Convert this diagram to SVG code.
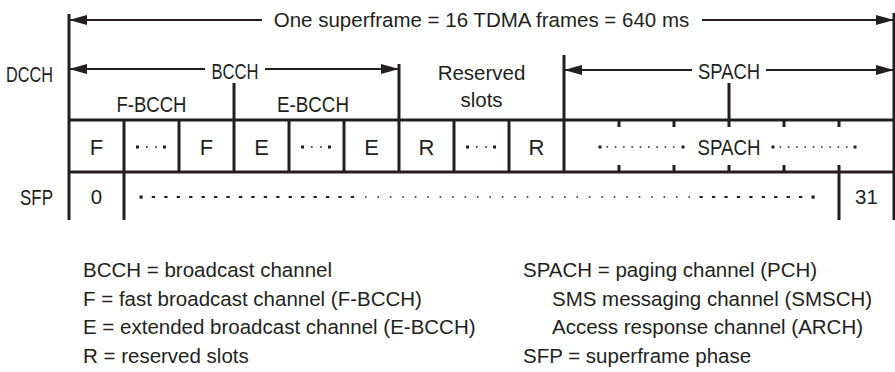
<svg xmlns="http://www.w3.org/2000/svg" width="895" height="372" viewBox="0 0 895 372">
<style>
  text { font-family: "Liberation Sans", Arial, sans-serif; font-size: 20.5px; fill: #231f20; }
  .c { text-anchor: middle; }
  .cap { font-size: 22px; }
  .grid { stroke: #231f20; stroke-width: 3; fill: none; }
  .arr { stroke: #231f20; stroke-width: 2; fill: none; marker-end: url(#ah); }
  .big { fill: #231f20; }
  .dash { stroke: #231f20; stroke-width: 2; }
</style>
<defs>
  <marker id="ah" markerUnits="userSpaceOnUse" markerWidth="18" markerHeight="10" viewBox="0 0 18 10" refX="18" refY="5" orient="auto">
    <path d="M0,0 L18,5 L0,10 z" fill="#231f20"/>
  </marker>
</defs>
<rect width="895" height="372" fill="#ffffff"/>

<g id="grid">
  <path class="grid" d="M69,14 V220 M894,13 V220 M69,120 H894 M69,172 H894"/>
  <path class="grid" d="M124,120 V220 M179,120 V172 M234,83 V172 M289,120 V172 M344,120 V172 M399,64 V172 M454,120 V172 M509,120 V172 M564,55 V172 M839,172 V220"/>
  <path class="grid" d="M619,120 V127 M674,120 V127 M729,83 V127 M784,120 V127 M839,120 V127 M619,165 V172 M674,165 V172 M729,165 V172 M784,165 V172 M839,165 V172"/>
</g>

<g id="connectors">
  <line class="arr" x1="262" y1="20" x2="69" y2="20"/>
  <line class="arr" x1="702" y1="20" x2="894" y2="20"/>
  <line class="arr" x1="205" y1="69" x2="69" y2="69"/>
  <line class="arr" x1="265" y1="69" x2="399" y2="69"/>
  <line class="arr" x1="692" y1="70" x2="564" y2="70"/>
  <line class="arr" x1="766" y1="70" x2="894" y2="70"/>
</g>

<g id="labels">
  <text class="c" x="481.5" y="27">One superframe = 16 TDMA frames = 640 ms</text>
  <text class="cap" x="6" y="81.5" textLength="47" lengthAdjust="spacingAndGlyphs">DCCH</text>
  <text class="c cap" x="235" y="78.5" textLength="47" lengthAdjust="spacingAndGlyphs">BCCH</text>
  <text class="c cap" x="729" y="78.5" textLength="62" lengthAdjust="spacingAndGlyphs">SPACH</text>
  <text class="c" x="481.5" y="80">Reserved</text>
  <text class="c" x="481.5" y="107">slots</text>
  <text class="c cap" x="151.5" y="111.5" textLength="70" lengthAdjust="spacingAndGlyphs">F-BCCH</text>
  <text class="c cap" x="313" y="111.5" textLength="72" lengthAdjust="spacingAndGlyphs">E-BCCH</text>
  <text class="cap" x="53" y="204.5" text-anchor="end" textLength="33" lengthAdjust="spacingAndGlyphs">SFP</text>
</g>

<g id="cells">
  <text class="c cap" x="96.5" y="154.5">F</text>
  <text class="c cap" x="206.5" y="154.5">F</text>
  <text class="c cap" x="261.5" y="154.5">E</text>
  <text class="c cap" x="371.5" y="154.5">E</text>
  <text class="c cap" x="426.5" y="154.5">R</text>
  <text class="c cap" x="536.5" y="154.5">R</text>
  <text class="c cap" x="729" y="154.5" textLength="63" lengthAdjust="spacingAndGlyphs">SPACH</text>
  <text class="c" x="96.5" y="204">0</text>
  <text class="c" x="866.5" y="204">31</text>
</g>

<g id="ellipses">
  <g id="ell1" transform="translate(151.5,147)">
    <rect class="big" x="-15.5" y="-1.5" width="3" height="3"/>
    <rect class="big" x="-5.5" y="-0.8" width="1.6" height="1.6"/>
    <rect class="big" x="3.7" y="-0.8" width="1.6" height="1.6"/>
    <rect class="big" x="11.5" y="-1.5" width="3" height="3"/>
  </g>
  <g id="ell2" transform="translate(316.5,147)">
    <rect class="big" x="-15.5" y="-1.5" width="3" height="3"/>
    <rect class="big" x="-5.5" y="-0.8" width="1.6" height="1.6"/>
    <rect class="big" x="3.7" y="-0.8" width="1.6" height="1.6"/>
    <rect class="big" x="11.5" y="-1.5" width="3" height="3"/>
  </g>
  <g id="ell3" transform="translate(481.5,147)">
    <rect class="big" x="-15.5" y="-1.5" width="3" height="3"/>
    <rect class="big" x="-5.5" y="-0.8" width="1.6" height="1.6"/>
    <rect class="big" x="3.7" y="-0.8" width="1.6" height="1.6"/>
    <rect class="big" x="11.5" y="-1.5" width="3" height="3"/>
  </g>
  <g id="spach-dots">
    <rect class="big" x="598.5" y="145.5" width="3" height="3"/>
    <rect class="big" x="681.5" y="145.5" width="3" height="3"/>
    <line x1="606.5" y1="147" x2="678" y2="147" stroke="#231f20" stroke-width="1.6" stroke-dasharray="1.6,6.7"/>
    <rect class="big" x="771.5" y="145.5" width="3" height="3"/>
    <rect class="big" x="853.5" y="145.5" width="3" height="3"/>
    <line x1="779.5" y1="147" x2="851" y2="147" stroke="#231f20" stroke-width="1.6" stroke-dasharray="1.6,6.7"/>
  </g>
  <g id="sfp-dots">
    <rect class="big" x="139.5" y="195.5" width="3.2" height="3.2"/>
    <line class="dash" x1="151.8" y1="197" x2="356" y2="197" stroke-dasharray="3.3,9.14"/>
    <line x1="365" y1="197" x2="690" y2="197" stroke="#231f20" stroke-width="1.6" stroke-dasharray="1.6,10.84"/>
    <line class="dash" x1="699.5" y1="197" x2="805" y2="197" stroke-dasharray="3.3,9.14"/>
    <rect class="big" x="811.5" y="195.5" width="3.2" height="3.2"/>
  </g>
</g>

<g id="legend">
  <text x="83" y="277">BCCH = broadcast channel</text>
  <text x="83" y="305.5">F = fast broadcast channel (F-BCCH)</text>
  <text x="83" y="334">E = extended broadcast channel (E-BCCH)</text>
  <text x="83" y="362.5">R = reserved slots</text>
  <text x="523" y="277">SPACH = paging channel (PCH)</text>
  <text x="552" y="305.5">SMS messaging channel (SMSCH)</text>
  <text x="552" y="334">Access response channel (ARCH)</text>
  <text x="523" y="362.5">SFP = superframe phase</text>
</g>
</svg>
